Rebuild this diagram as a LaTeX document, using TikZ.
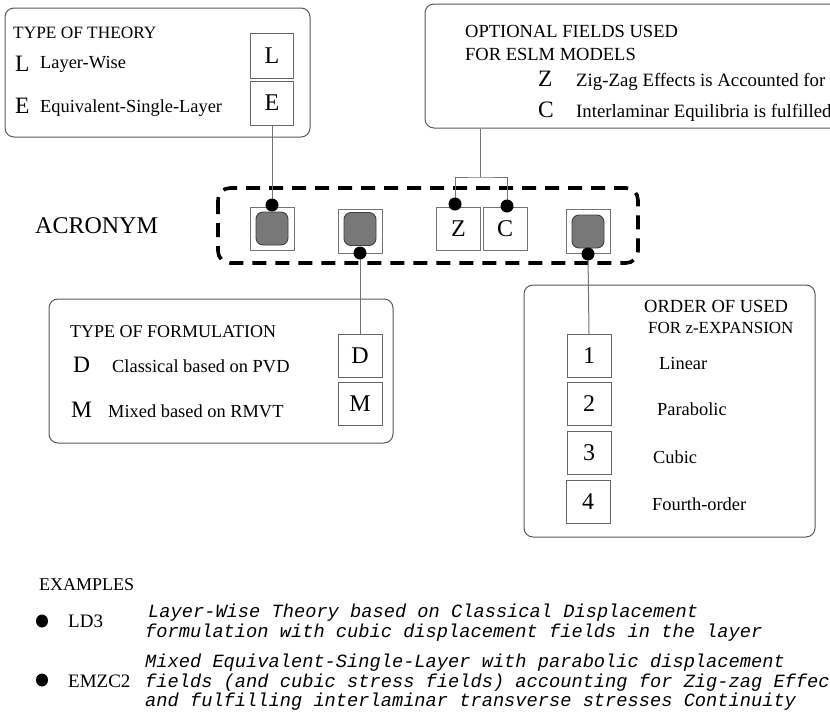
\documentclass[tikz,border=0pt]{standalone}
\usepackage{fontspec}
\usetikzlibrary{shapes.geometric}
\setmainfont{Liberation Serif}
\setmonofont{Liberation Mono}
\newcommand\setfs[1]{\fontsize{#1}{#1}\selectfont}
\begin{document}
\begin{tikzpicture}[x=1pt,y=-1pt,
  panel/.style={draw=black!65, line width=1pt, rounded corners=9pt, inner sep=0pt},
  keybox/.style={draw=black!60, line width=0.9pt, minimum width=43pt, minimum height=44pt, inner sep=0pt, font=\setfs{24}},
  slot/.style={draw=black!55, line width=0.9pt, minimum width=44pt, minimum height=43pt, inner sep=0pt, font=\setfs{24}},
  filled/.style={draw=black!75, fill=black!53, rounded corners=7pt, minimum width=32pt, minimum height=33pt, line width=0.9pt, inner sep=0pt},
  pin/.style={circle, fill=black, minimum size=13pt, inner sep=0pt},
  bullet/.style={ellipse, fill=black, minimum width=12pt, minimum height=13pt, inner sep=0pt},
  wire/.style={draw=black!55, line width=1pt},
  txt/.style={anchor=base west, inner sep=0pt},
  big/.style={txt, font=\setfs{23.5}},
  desc/.style={txt, font=\setfs{18.4}},
  mono/.style={txt, font=\setfs{18.7}\ttfamily\itshape}
]
\useasboundingbox (0,0) rectangle (830,715);
\fill[white] (0,0) rectangle (830,715);
\begin{scope}
\clip (0,0) rectangle (830,715);

% ---------- type of theory ----------
\node[panel, minimum width=305pt, minimum height=129pt] (theory) at (157.5,72.5) {};
\node[txt, font=\setfs{17.3}] (thTitle) at (13,38) {TYPE OF THEORY};
\node[big] (thL) at (15,71) {L};
\node[desc] (thLtxt) at (40,68) {Layer-Wise};
\node[big] (thE) at (15,113) {E};
\node[desc] (thEtxt) at (40,112) {Equivalent-Single-Layer};
\node[keybox, minimum height=45pt] (boxL) at (272,55.5) {L};
\node[keybox] (boxE) at (272,103) {E};

% ---------- optional fields ----------
\node[panel, minimum width=480pt, minimum height=124pt] (optional) at (665,66) {};
\node[txt, font=\setfs{18.5}] (opTitleA) at (465,37) {OPTIONAL FIELDS USED};
\node[txt, font=\setfs{18.5}] (opTitleB) at (465,60) {FOR ESLM MODELS};
\node[big] (opZ) at (538,86) {Z};
\node[txt, font=\setfs{18.8}] (opZtxt) at (576,86) {Zig-Zag Effects is Accounted for};
\node[big] (opC) at (538,117) {C};
\node[txt, font=\setfs{18.8}] (opCtxt) at (576,117) {Interlaminar Equilibria is fulfilled};

% ---------- acronym ----------
\node[txt, font=\setfs{24}] (acronym) at (35,233) {ACRONYM};
\draw[line width=3.6pt, dash pattern=on 14pt off 9pt, rounded corners=12pt]
  (218,188) rectangle (638,263);

\node[slot] (slotA) at (272,228.5) {};
\node[filled] (grayA) at (272,228.5) {};
\node[slot, minimum height=44pt] (slotB) at (360,231) {};
\node[filled] (grayB) at (360,229) {};
\node[slot] (slotZ) at (458.5,228.5) {Z};
\node[slot] (slotC) at (505,228.5) {C};
\node[slot, minimum height=44pt] (slotN) at (588,231) {};
\node[filled] (grayN) at (588,231.5) {};

% ---------- type of formulation ----------
\node[panel, minimum width=344pt, minimum height=144pt] (formulation) at (221,371) {};
\node[txt, font=\setfs{18}] (foTitle) at (70,337) {TYPE OF FORMULATION};
\node[big] (foD) at (73,372) {D};
\node[desc] (foDtxt) at (112,372) {Classical based on PVD};
\node[big] (foM) at (71,417) {M};
\node[desc] (foMtxt) at (108,417) {Mixed based on RMVT};
\node[keybox, minimum width=44pt, minimum height=43pt] (boxD) at (360,355.5) {D};
\node[keybox, minimum width=44pt, minimum height=43pt] (boxM) at (360,403.5) {M};

% ---------- order of expansion ----------
\node[panel, minimum width=291pt, minimum height=252pt] (order) at (669.5,411) {};
\node[txt, font=\setfs{18.5}] (orTitleA) at (644,312) {ORDER OF USED};
\node[txt, font=\setfs{17}] (orTitleB) at (648,333) {FOR z-EXPANSION};
\node[keybox, minimum width=44pt, minimum height=43pt] (box1) at (589,355.5) {1};
\node[keybox, minimum width=44pt, minimum height=43pt] (box2) at (589,403.5) {2};
\node[keybox, minimum width=44pt, minimum height=43pt] (box3) at (589,452.5) {3};
\node[keybox, minimum width=44pt, minimum height=43pt] (box4) at (588,501.5) {4};
\node[desc] (orOne) at (659,369) {Linear};
\node[desc] (orTwo) at (657,415) {Parabolic};
\node[desc] (orThree) at (653,463) {Cubic};
\node[desc] (orFour) at (652,510) {Fourth-order};

% ---------- connectors ----------
\coordinate (fork) at (480,177);
\coordinate (pA) at (272,205);
\coordinate (pB) at (360,253);
\coordinate (pZ) at (455,204);
\coordinate (pC) at (507,206);
\coordinate (pN) at (588,254);
\draw[wire] (boxE.south) -- (pA);
\draw[wire] (pB) -- (boxD.north);
\draw[wire] (pZ) |- (fork) -| (pC);
\draw[wire] (fork) -- (fork |- optional.south);
\draw[wire] (pN) -- (box1.north);
\node[pin] (pinA) at (pA) {};
\node[pin] (pinB) at (pB) {};
\node[pin] (pinZ) at (pZ) {};
\node[pin] (pinC) at (pC) {};
\node[pin] (pinN) at (pN) {};

% ---------- examples ----------
\node[txt, font=\setfs{18}] (exTitle) at (39,590) {EXAMPLES};
\node[bullet] (exDotA) at (42,621) {};
\node[txt, font=\setfs{19}] (exA) at (68,627) {LD3};
\node[mono] (exAa) at (148,617) {Layer-Wise Theory based on Classical Displacement};
\node[mono] (exAb) at (145,637) {formulation with cubic displacement fields in the layer};
\node[bullet] (exDotB) at (42,680) {};
\node[txt, font=\setfs{19}] (exB) at (68,687) {EMZC2};
\node[mono] (exBa) at (145,667) {Mixed Equivalent-Single-Layer with parabolic displacement};
\node[mono] (exBb) at (145,687) {fields (and cubic stress fields) accounting for Zig-zag Effects};
\node[mono] (exBc) at (145,706) {and fulfilling interlaminar transverse stresses Continuity};
\end{scope}
\end{tikzpicture}
\end{document}
